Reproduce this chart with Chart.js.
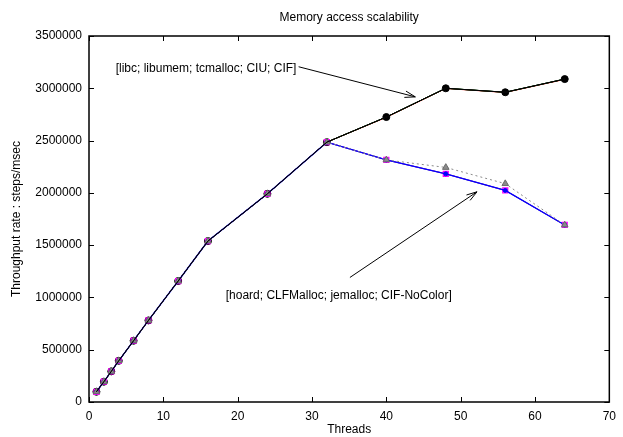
<!DOCTYPE html>
<html lang="en">
<head>
  <meta charset="UTF-8" />
  <title>Memory access scalability</title>
  <script src="https://cdn.jsdelivr.net/npm/chart.js"></script>
  <style>
    body { margin: 0; background: #fff; }
    .wrap { width: 623px; height: 437px; }
  </style>
</head>
<body>
  <div class="wrap"><canvas id="chart"></canvas></div>

  <script>
    // x values (threads)
    const threads = [1, 2, 3, 4, 6, 8, 12, 16, 24, 32, 40, 48, 56, 64];

    // upper group: libc; libumem; tcmalloc; CIU; CIF
    const libc     = [98000, 194000, 293000, 394000, 586000, 780000, 1157000, 1539000, 1991000, 2485000, 2722000, 2998000, 2960000, 3085000];
    const libumem  = [98000, 194000, 293000, 394000, 586000, 780000, 1157000, 1539000, 1991000, 2485000, 2725000, 3000000, 2962000, 3088000];
    const tcmalloc = [98000, 194000, 293000, 394000, 586000, 780000, 1157000, 1539000, 1991000, 2485000, 2725000, 3000000, 2962000, 3088000];
    const ciu      = [98000, 194000, 293000, 394000, 586000, 780000, 1157000, 1539000, 1991000, 2485000, 2725000, 3000000, 2962000, 3088000];
    const cif      = [98000, 194000, 293000, 394000, 586000, 780000, 1157000, 1539000, 1991000, 2485000, 2725000, 3000000, 2962000, 3088000];

    // lower group: hoard; CLFMalloc; jemalloc; CIF-NoColor
    const hoard      = [98000, 194000, 293000, 394000, 586000, 780000, 1157000, 1539000, 1991000, 2485000, 2315000, 2243000, 2088000, 1693000];
    const clfmalloc  = [98000, 194000, 293000, 394000, 586000, 780000, 1157000, 1539000, 1991000, 2485000, 2315000, 2182000, 2023000, 1693000];
    const jemalloc   = [98000, 194000, 293000, 394000, 586000, 780000, 1157000, 1539000, 1991000, 2485000, 2315000, 2182000, 2023000, 1693000];
    const cifNoColor = [98000, 194000, 293000, 394000, 586000, 780000, 1157000, 1539000, 1991000, 2485000, 2315000, 2182000, 2023000, 1693000];

    // axis ticks
    const xTicks = [0, 10, 20, 30, 40, 50, 60, 70];
    const yTicks = [0, 500000, 1000000, 1500000, 2000000, 2500000, 3000000, 3500000];

    // annotation labels and arrows, in data coordinates
    const labelUpper = '[libc; libumem; tcmalloc; CIU; CIF]';
    const labelUpperAt = [27.9, 3192000];
    const arrowUpper = [[28.2, 3206000], [43.9, 2918000]];
    const labelLower = '[hoard; CLFMalloc; jemalloc; CIF-NoColor]';
    const labelLowerAt = [33.6, 1014000];
    const arrowLower = [[35.1, 1191000], [52.2, 2010000]];

    const FONT = '"Liberation Sans", Arial, Helvetica, sans-serif';

    const pts = arr => arr.map((y, i) => ({ x: threads[i], y }));

    function series(label, data, color, opts) {
      return Object.assign({
        label, data: pts(data),
        borderColor: color, backgroundColor: color,
        borderWidth: 1, pointRadius: 0, pointBorderWidth: 1,
        pointBackgroundColor: color, pointBorderColor: color
      }, opts);
    }

    // frame, inward ticks, title, annotations
    const decor = {
      id: 'decor',
      afterDatasetsDraw(chart) {
        const { ctx, chartArea: a, scales: { x, y } } = chart;
        ctx.save();
        ctx.strokeStyle = '#000';
        ctx.lineWidth = 1;
        ctx.beginPath();
        xTicks.forEach(t => {
          const px = Math.round(x.getPixelForValue(t)) + 0.5;
          ctx.moveTo(px, a.bottom); ctx.lineTo(px, a.bottom - 5);
          ctx.moveTo(px, a.top); ctx.lineTo(px, a.top + 5);
        });
        yTicks.forEach(t => {
          const py = Math.round(y.getPixelForValue(t)) + 0.5;
          ctx.moveTo(a.left, py); ctx.lineTo(a.left + 5, py);
          ctx.moveTo(a.right, py); ctx.lineTo(a.right - 5, py);
        });
        ctx.stroke();
        ctx.lineWidth = 1.5;
        ctx.strokeRect(a.left, a.top, a.right - a.left, a.bottom - a.top);

        ctx.fillStyle = '#000';
        ctx.font = '12px ' + FONT;
        ctx.textBaseline = 'middle';
        ctx.textAlign = 'center';
        ctx.fillText('Memory access scalability', (a.left + a.right) / 2, 18);

        ctx.textAlign = 'right';
        ctx.fillText(labelUpper, x.getPixelForValue(labelUpperAt[0]), y.getPixelForValue(labelUpperAt[1]));
        ctx.textAlign = 'center';
        ctx.fillText(labelLower, x.getPixelForValue(labelLowerAt[0]), y.getPixelForValue(labelLowerAt[1]));

        ctx.lineWidth = 1;
        [arrowUpper, arrowLower].forEach(([from, to]) => {
          const x0 = x.getPixelForValue(from[0]), y0 = y.getPixelForValue(from[1]);
          const x1 = x.getPixelForValue(to[0]), y1 = y.getPixelForValue(to[1]);
          const ang = Math.atan2(y1 - y0, x1 - x0);
          const len = 11, spread = 0.3;
          ctx.beginPath();
          ctx.moveTo(x0, y0); ctx.lineTo(x1, y1);
          ctx.moveTo(x1 - len * Math.cos(ang - spread), y1 - len * Math.sin(ang - spread));
          ctx.lineTo(x1, y1);
          ctx.lineTo(x1 - len * Math.cos(ang + spread), y1 - len * Math.sin(ang + spread));
          ctx.stroke();
        });
        ctx.restore();
      }
    };

    new Chart(document.getElementById('chart'), {
      type: 'line',
      data: {
        datasets: [
          series('libc', libc, '#ff0000', { order: 9 }),
          series('libumem', libumem, '#00c000', { order: 8 }),
          series('CIF', cif, '#000000', { order: 7, pointRadius: 3.5, pointStyle: 'circle' }),
          series('CIF-NoColor', cifNoColor, '#00a000', { order: 6, pointRadius: 2.5, pointStyle: 'crossRot' }),
          series('jemalloc', jemalloc, '#ff00ff', { order: 5, pointRadius: 3.5, pointStyle: 'rect', pointBackgroundColor: 'rgba(0,0,0,0)', pointBorderWidth: 1.3 }),
          series('CLFMalloc', clfmalloc, '#0000ff', { order: 4, borderWidth: 1.3, pointRadius: 2, pointStyle: 'circle' }),
          series('hoard', hoard, '#8a8a8a', { order: 3, borderDash: [2, 3], pointRadius: 3.8, pointStyle: 'triangle', pointBackgroundColor: '#8a8a8a', pointBorderColor: '#6a6a6a' }),
          series('CIU', ciu, '#202020', { order: 2 }),
          series('tcmalloc', tcmalloc, '#000000', { order: 1 })
        ]
      },
      options: {
        responsive: true,
        maintainAspectRatio: false,
        animation: false,
        layout: { padding: { top: 36, right: 9, left: 0, bottom: 0 } },
        plugins: {
          legend: { display: false },
          tooltip: { enabled: false },
          title: { display: false }
        },
        scales: {
          x: {
            type: 'linear', min: 0, max: 70,
            afterFit: s => { s.height = 35; },
            afterBuildTicks: s => { s.ticks = xTicks.map(v => ({ value: v })); },
            grid: { display: false, drawTicks: false },
            border: { display: false },
            ticks: { color: '#000', padding: 7, font: { size: 12, family: FONT }, maxRotation: 0, callback: v => String(v) },
            title: { display: true, text: 'Threads', color: '#000', font: { size: 12, family: FONT }, padding: { top: 0, bottom: 0 } }
          },
          y: {
            min: 0, max: 3500000,
            afterFit: s => { s.width = 89; },
            afterBuildTicks: s => { s.ticks = yTicks.map(v => ({ value: v })); },
            grid: { display: false, drawTicks: false },
            border: { display: false },
            ticks: { color: '#000', padding: 7, font: { size: 12, family: FONT }, callback: v => String(v) },
            title: { display: true, text: 'Throughput rate : steps/msec', color: '#000', font: { size: 12, family: FONT }, padding: { top: 9, bottom: 0 } }
          }
        }
      },
      plugins: [decor]
    });
  </script>
</body>
</html>
